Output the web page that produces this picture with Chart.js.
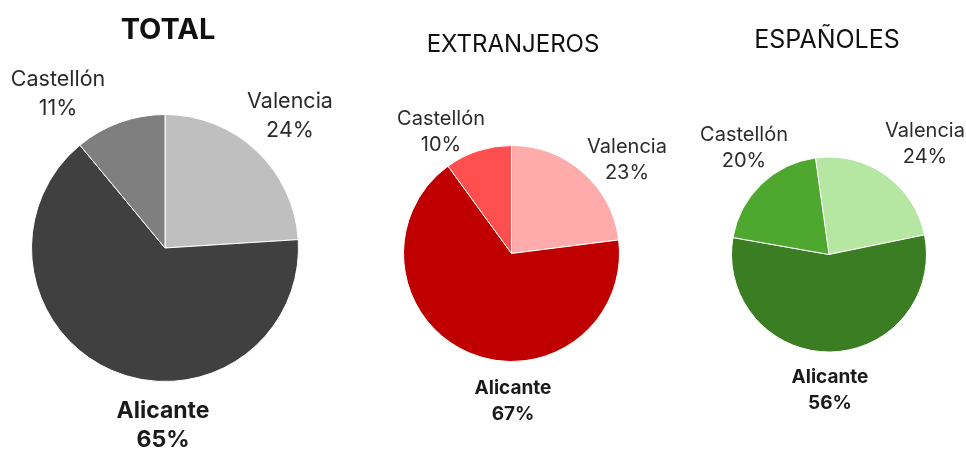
<!DOCTYPE html>
<html>
<head>
<meta charset="utf-8">
<script src="https://cdn.jsdelivr.net/npm/chart.js@4.4.1/dist/chart.umd.min.js"></script>
<style>
  html, body { margin: 0; padding: 0; background: #fff; }
  #wrap { position: relative; width: 966px; height: 450px; overflow: hidden; }
  #wrap canvas { position: absolute; left: 0; top: 0; }
</style>
</head>
<body>
<div id="wrap">
  <canvas id="c1" width="966" height="450"></canvas>
  <canvas id="c2" width="966" height="450"></canvas>
  <canvas id="c3" width="966" height="450"></canvas>
</div>
<script>
// ---- Data ----
const categories = ["Valencia", "Alicante", "Castellón"];
const totalValues = [24, 65, 11];
const extranjerosValues = [23, 67, 10];
const espanolesValues = [24, 56, 20];
const chartTitles = ["TOTAL", "EXTRANJEROS", "ESPAÑOLES"];

// ---- Styling / layout ----
const W = 966, H = 450;
const FONT = "Inter, 'Open Sans', 'Noto Sans', sans-serif";
const charts = [
  {
    id: "c1", values: totalValues, title: chartTitles[0],
    colors: ["#BFBFBF", "#404040", "#7F7F7F"],
    cx: 165, cy: 248, r: 134, rotation: 0,
    titlePos: [168, 30], titleFont: "bold 29px " + FONT,
    normalSize: 21.5, boldSize: 23, lineGap: 29,
    labelOffsets: [[125, -146], [-2, 163], [-107, -168]]
  },
  {
    id: "c2", values: extranjerosValues, title: chartTitles[1],
    colors: ["#FFABAB", "#C00000", "#FF4F4F"],
    cx: 511.5, cy: 253.5, r: 108.5, rotation: 0,
    titlePos: [513, 45], titleFont: "24px " + FONT,
    normalSize: 20, boldSize: 19, lineGap: 26,
    labelOffsets: [[115.5, -106.5], [1.5, 134.5], [-70.5, -134.5]]
  },
  {
    id: "c3", values: espanolesValues, title: chartTitles[2],
    colors: ["#B5E6A2", "#3B7D23", "#4EA72E"],
    cx: 829, cy: 254.5, r: 98, rotation: -8,
    titlePos: [827, 40], titleFont: "25px " + FONT,
    normalSize: 20, boldSize: 19, lineGap: 26,
    labelOffsets: [[96, -123.5], [1, 122.5], [-85, -119.5]]
  }
];

const labelPlugin = {
  id: "pieLabels",
  afterDraw(chart, args, opts) {
    const ctx = chart.ctx;
    const meta = chart.getDatasetMeta(0);
    const ds = chart.data.datasets[0];
    const total = ds.data.reduce((a, b) => a + b, 0);
    ctx.save();
    ctx.textAlign = "center";
    ctx.textBaseline = "middle";
    ctx.fillStyle = "#111";
    ctx.font = opts.titleFont;
    ctx.fillText(opts.title, opts.titlePos[0], opts.titlePos[1]);
    meta.data.forEach((arc, i) => {
      const x = arc.x + opts.labelOffsets[i][0];
      const y = arc.y + opts.labelOffsets[i][1];
      const bold = chart.data.labels[i] === "Alicante";
      ctx.font = bold ? ("bold " + opts.boldSize + "px " + FONT) : (opts.normalSize + "px " + FONT);
      ctx.fillStyle = bold ? "#1a1a1a" : "#2b2b2b";
      ctx.fillText(chart.data.labels[i], x, y);
      ctx.fillText(Math.round(ds.data[i] / total * 100) + "%", x, y + opts.lineGap);
    });
    ctx.restore();
  }
};

charts.forEach(cfg => {
  new Chart(document.getElementById(cfg.id), {
    type: "pie",
    data: {
      labels: categories,
      datasets: [{
        data: cfg.values,
        backgroundColor: cfg.colors,
        borderColor: "#ffffff",
        borderWidth: 1
      }]
    },
    options: {
      responsive: false,
      animation: false,
      events: [],
      rotation: cfg.rotation,
      layout: {
        padding: {
          left: cfg.cx - cfg.r,
          top: cfg.cy - cfg.r,
          right: W - (cfg.cx + cfg.r),
          bottom: H - (cfg.cy + cfg.r)
        }
      },
      plugins: {
        legend: { display: false },
        tooltip: { enabled: false },
        pieLabels: {
          title: cfg.title,
          titlePos: cfg.titlePos,
          titleFont: cfg.titleFont,
          normalSize: cfg.normalSize,
          boldSize: cfg.boldSize,
          lineGap: cfg.lineGap,
          labelOffsets: cfg.labelOffsets
        }
      }
    },
    plugins: [labelPlugin]
  });
});
</script>
</body>
</html>
